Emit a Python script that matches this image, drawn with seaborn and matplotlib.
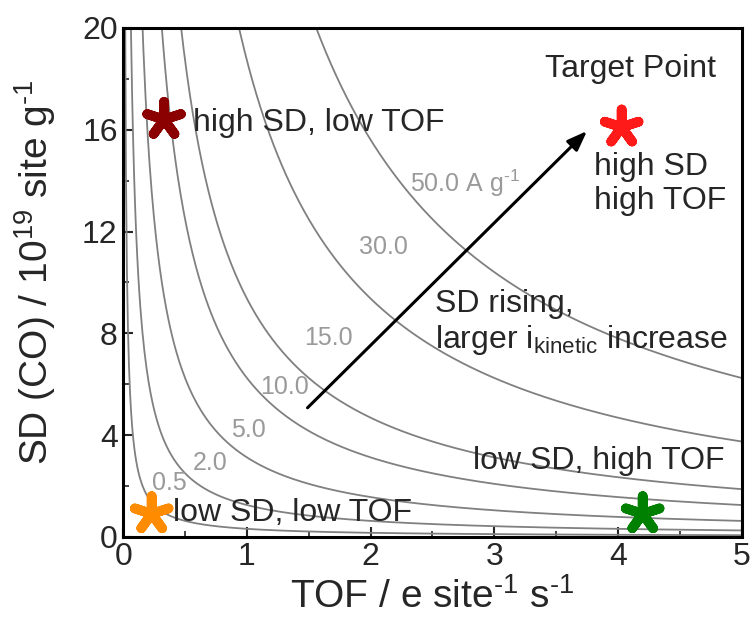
import matplotlib
matplotlib.use('Agg')
import matplotlib.pyplot as plt
import numpy as np
import pandas as pd
import seaborn as sns

# iso-current levels (A g-1) drawn as SD * TOF * e = i
currents = [0.5, 2.0, 5.0, 10.0, 15.0, 30.0, 50.0]
current_labels = ['0.5', '2.0', '5.0', '10.0', '15.0', '30.0', '50.0 A g$^{‐1}$']
label_x = [0.37, 0.70, 1.01, 1.30, 1.66, 2.10, 2.32]
label_y = [2.1, 2.9, 4.2, 5.9, 7.8, 11.4, 13.9]

# marked points
star_names = ['high SD, low TOF', 'target', 'low SD, low TOF', 'low SD, high TOF']
star_tof = [0.33, 4.03, 0.23, 4.2]
star_sd = [16.4, 16.1, 0.9, 0.9]
star_colors = ['#8b0000', '#ff1a1a', '#ff8c00', '#008000']

E_CHARGE = 1.602  # e * 1e19 site
tof_grid = np.linspace(0.005, 5, 600)
rows = []
for i in currents:
    for t in tof_grid:
        rows.append({'TOF': t, 'SD': i / (E_CHARGE * t), 'current': i})
curves = pd.DataFrame(rows)
stars = pd.DataFrame({'TOF': star_tof, 'SD': star_sd, 'name': star_names})

sns.set_style('ticks')
plt.rcParams['font.family'] = ['Liberation Sans', 'DejaVu Sans']
plt.rcParams['mathtext.fontset'] = 'custom'
plt.rcParams['mathtext.rm'] = 'Liberation Sans'
plt.rcParams['mathtext.it'] = 'Liberation Sans'
plt.rcParams['mathtext.default'] = 'regular'

fig = plt.figure(figsize=(7.56, 6.36), dpi=100)
ax = fig.add_axes([0.163, 0.156, 0.818, 0.800])

sns.lineplot(data=curves, x='TOF', y='SD', hue='current', units='current', estimator=None,
             palette=['#808080'] * len(currents), linewidth=1.3, legend=False, ax=ax, sort=False)

for lab, lx, ly in zip(current_labels, label_x, label_y):
    ha = 'left' if lab.startswith('50') else 'center'
    ax.text(lx, ly, lab, color='#9a9a9a', fontsize=18, ha=ha, va='center')

sns.scatterplot(data=stars, x='TOF', y='SD', hue='name', palette=star_colors,
                marker=(5, 2, 0), s=650, linewidth=7, legend=False, ax=ax, zorder=5)

ax.annotate('', xy=(3.75, 15.95), xytext=(1.49, 5.07),
            arrowprops=dict(arrowstyle='-|>,head_length=1.2,head_width=0.45', color='black',
                            lw=2.2, shrinkA=0, shrinkB=0))

ax.text(0.565, 16.27, 'high SD, low TOF', fontsize=23, va='center')
ax.text(4.10, 18.39, 'Target Point', fontsize=23, ha='center', va='center')
ax.text(3.81, 13.87, 'high SD\nhigh TOF', fontsize=23, va='center', linespacing=1.15)
ax.text(2.52, 8.4, 'SD rising,\nlarger i$_{kinetic}$ increase', fontsize=23, va='center',
        linespacing=1.15)
ax.text(4.86, 2.99, 'low SD, high TOF', fontsize=23, ha='right', va='center')
ax.text(0.40, 0.95, 'low SD, low TOF', fontsize=23, va='center')

ax.set_xlim(0, 5)
ax.set_ylim(0, 20)
ax.set_xticks([0, 1, 2, 3, 4, 5])
ax.set_yticks([0, 4, 8, 12, 16, 20])
ax.set_xticks(np.arange(0.5, 5, 1), minor=True)
ax.set_yticks(np.arange(2, 20, 4), minor=True)
ax.tick_params(axis='both', which='major', direction='in', length=7, width=1.5, labelsize=23, pad=4)
ax.tick_params(axis='both', which='minor', direction='in', length=4, width=1.2)
for s in ax.spines.values():
    s.set_linewidth(2.2)
    s.set_color('black')

ax.set_xlabel('TOF / e site$^{‐1}$ s$^{‐1}$', fontsize=28, labelpad=4)
ax.set_ylabel('SD (CO) / 10$^{19}$ site g$^{‐1}$', fontsize=28)
ax.yaxis.set_label_coords(-0.105, 0.52)

fig.savefig('out.png', dpi=100)
